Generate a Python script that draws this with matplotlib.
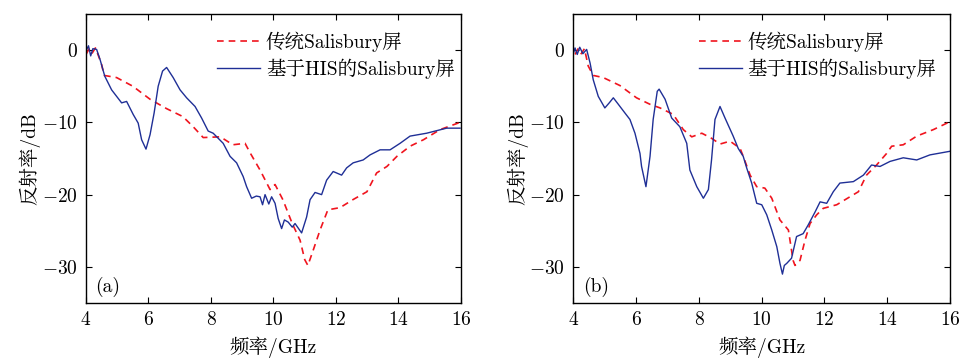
import numpy as np
import matplotlib.pyplot as plt

plt.rcParams['font.family'] = ['cmr10', 'Noto Serif CJK SC', 'Noto Sans CJK SC', 'DejaVu Serif']
plt.rcParams['axes.formatter.use_mathtext'] = True
plt.rcParams['mathtext.fontset'] = 'cm'

# (a) traditional Salisbury screen
freq_a_trad = [4.0, 4.1, 4.2, 4.3, 4.4, 4.5, 4.58, 4.98, 5.5, 6.05, 6.58, 7.1, 7.43, 7.75, 8.3, 8.7,
               9.09, 9.25, 9.57, 9.89, 10.05, 10.3, 10.6, 10.85, 11.0, 11.1, 11.27, 11.49, 11.74,
               12.13, 12.54, 12.99, 13.3, 13.63, 13.95, 14.37, 14.8, 15.33, 15.97]
refl_a_trad = [-0.6, 0.2, -0.4, 0.3, -0.8, -2.0, -3.5, -3.8, -5.0, -6.8, -8.1, -9.2, -10.6, -12.1,
               -12.0, -13.1, -12.9, -14.2, -16.6, -19.3, -18.6, -20.7, -24.0, -26.3, -29.0, -29.8,
               -27.7, -24.9, -22.1, -21.8, -20.7, -19.6, -17.0, -16.1, -14.7, -13.3, -12.4, -11.0, -10.0]

# (a) Salisbury screen with HIS
freq_a_his = [4.0, 4.08, 4.15, 4.22, 4.34, 4.45, 4.6, 4.82, 4.98, 5.14, 5.3, 5.51, 5.67, 5.78, 5.92,
              6.05, 6.18, 6.31, 6.45, 6.58, 6.79, 7.01, 7.22, 7.49, 7.7, 7.91, 8.07, 8.39, 8.61,
              8.82, 9.03, 9.14, 9.3, 9.45, 9.57, 9.65, 9.73, 9.85, 9.94, 10.05, 10.15, 10.26, 10.35,
              10.47, 10.6, 10.69, 10.9, 11.06, 11.17, 11.33, 11.54, 11.7, 11.91, 12.18, 12.34,
              12.55, 12.87, 13.09, 13.41, 13.73, 14.05, 14.37, 14.9, 15.54, 15.97]
refl_a_his = [-0.1, 0.6, -0.8, 0.2, 0.1, -1.3, -3.6, -5.5, -6.4, -7.3, -7.1, -8.9, -10.1, -12.4,
              -13.7, -11.7, -8.7, -5.0, -2.9, -2.4, -3.8, -5.5, -6.6, -7.8, -9.4, -11.2, -11.5,
              -12.9, -14.7, -15.6, -17.5, -18.9, -20.5, -20.2, -20.3, -21.4, -20.0, -21.3, -20.3,
              -21.2, -23.3, -24.7, -23.5, -23.8, -24.5, -24.0, -25.3, -23.1, -20.7, -19.7, -20.0,
              -18.0, -16.8, -17.3, -16.3, -15.6, -15.2, -14.5, -13.8, -13.8, -12.9, -11.9, -11.5,
              -10.8, -10.8]

# (b) traditional Salisbury screen
freq_b_trad = [4.05, 4.15, 4.25, 4.35, 4.47, 4.63, 4.95, 5.48, 6.01, 6.44, 6.76, 7.18, 7.5, 7.77,
               8.09, 8.4, 8.67, 8.99, 9.31, 9.41, 9.63, 9.84, 10.1, 10.32, 10.58, 10.85, 11.0,
               11.06, 11.22, 11.38, 11.54, 11.75, 11.96, 12.39, 12.81, 13.08, 13.34, 13.66, 13.98,
               14.14, 14.51, 14.94, 15.47, 16.0]
refl_b_trad = [-0.6, 0.2, -0.5, 0.2, -2.2, -3.5, -3.8, -4.9, -6.6, -7.5, -8.0, -8.9, -11.0, -12.0,
               -11.5, -12.2, -13.0, -12.6, -13.6, -14.7, -17.3, -18.9, -19.1, -20.5, -23.5, -24.9,
               -29.1, -29.8, -29.1, -26.3, -24.0, -22.8, -21.9, -21.4, -20.3, -19.6, -17.3, -15.9,
               -14.3, -13.3, -13.1, -11.9, -11.0, -9.9]

# (b) Salisbury screen with HIS
freq_b_his = [4.0, 4.05, 4.12, 4.2, 4.3, 4.42, 4.53, 4.63, 4.79, 5.0, 5.14, 5.27, 5.43, 5.64, 5.8,
              5.96, 6.12, 6.17, 6.31, 6.44, 6.54, 6.67, 6.73, 6.92, 7.13, 7.39, 7.61, 7.71, 7.93,
              8.14, 8.3, 8.4, 8.51, 8.67, 8.83, 9.09, 9.25, 9.41, 9.52, 9.68, 9.84, 10.0, 10.16,
              10.32, 10.48, 10.58, 10.66, 10.72, 10.8, 10.95, 11.11, 11.32, 11.48, 11.7, 11.86,
              12.07, 12.28, 12.49, 12.92, 13.24, 13.5, 13.77, 14.09, 14.51, 14.94, 15.36, 16.0]
refl_b_his = [-0.4, 0.3, -0.6, 0.4, -0.5, 0.1, -1.8, -4.1, -6.4, -8.0, -7.3, -6.6, -7.5, -8.7, -9.6,
              -11.5, -14.3, -16.1, -18.9, -14.7, -9.6, -5.7, -5.4, -6.8, -9.4, -10.6, -12.9, -16.6,
              -18.9, -20.5, -19.3, -15.2, -9.6, -7.8, -9.4, -11.9, -13.6, -14.7, -16.3, -18.4,
              -21.2, -21.4, -22.8, -24.9, -27.2, -29.5, -31.0, -29.8, -29.5, -28.8, -25.8, -25.4,
              -24.2, -22.4, -21.0, -21.2, -19.6, -18.4, -18.2, -17.3, -15.9, -16.1, -15.4, -14.9,
              -15.2, -14.5, -14.0]

labels = ['传统Salisbury屏', '基于HIS的Salisbury屏']
red = '#f0141e'
blue = '#1f2f96'

fig = plt.figure(figsize=(9.63, 3.58), dpi=100)
ax_a = fig.add_axes([0.0893, 0.1536, 0.3894, 0.8073])
ax_b = fig.add_axes([0.5955, 0.1536, 0.3910, 0.8073])

panels = [(ax_a, freq_a_trad, refl_a_trad, freq_a_his, refl_a_his, '(a)', 1.03),
          (ax_b, freq_b_trad, refl_b_trad, freq_b_his, refl_b_his, '(b)', 1.01)]

for ax, ft, rt, fh, rh, tag, lx in panels:
    ax.plot(ft, rt, color=red, linestyle=(0, (4, 3)), linewidth=1.2, label=labels[0])
    ax.plot(fh, rh, color=blue, linewidth=1.0, label=labels[1])
    ax.set_xlim(4, 16)
    ax.set_ylim(-35, 5)
    ax.set_xticks([4, 6, 8, 10, 12, 14, 16])
    ax.set_yticks([0, -10, -20, -30])
    ax.tick_params(direction='in', top=True, right=True, labelsize=14, length=4, pad=6)
    for s in ax.spines.values():
        s.set_linewidth(1.0)
    ax.set_xlabel('频率/GHz', fontsize=14, labelpad=5)
    ax.set_ylabel('反射率/dB', fontsize=14, labelpad=1)
    ax.text(0.025, 0.04, tag, transform=ax.transAxes, fontsize=14)
    ax.legend(loc='upper right', frameon=False, fontsize=14, handlelength=2.2,
              handletextpad=0.3, labelspacing=0.35, bbox_to_anchor=(lx, 1.0))

plt.savefig('out.png', dpi=100)
